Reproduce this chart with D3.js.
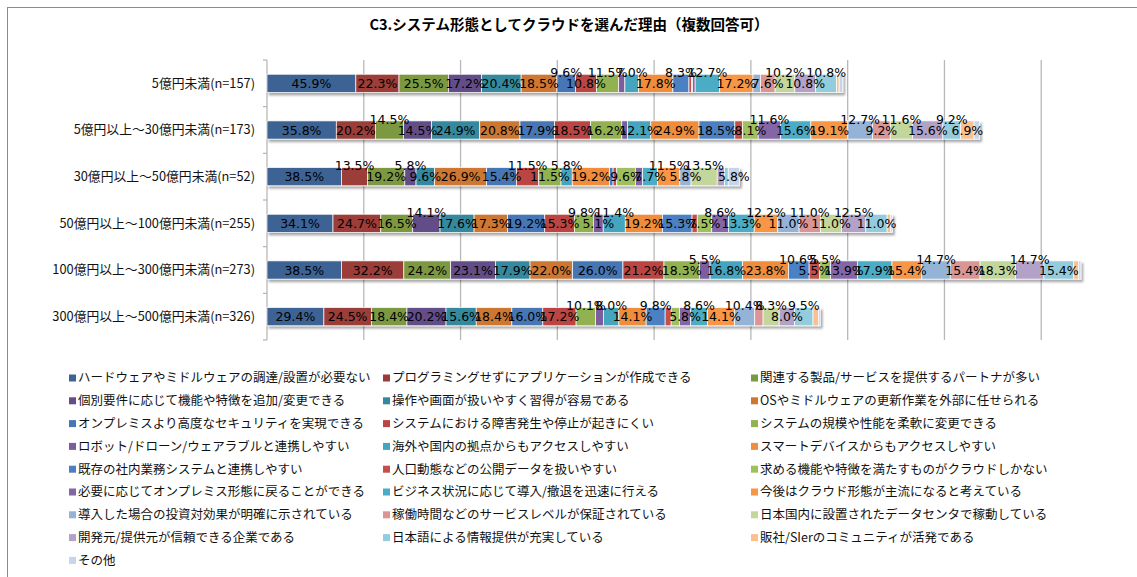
<!DOCTYPE html>
<html>
<head>
<meta charset="utf-8">
<script src="https://cdn.jsdelivr.net/npm/d3@7"></script>
<style>
  body { margin: 0; background: #fff; }
  .jp { font-family: "Noto Sans CJK JP", sans-serif; }
  .num { font-family: "DejaVu Sans", Verdana, sans-serif; }
</style>
</head>
<body>
<div id="chart"></div>
<script>
// Chart size and plot area (plot continues past the right edge, like the cropped original)
const width = 1137;
const height = 577;
const margin = {left: 267, top: 60};
const plotBottom = 340;
const plotRight = 1138;

// Categories (rows)
const categories = [
  "5億円未満(n=157)",
  "5億円以上～30億円未満(n=173)",
  "30億円以上～50億円未満(n=52)",
  "50億円以上～100億円未満(n=255)",
  "100億円以上～300億円未満(n=273)",
  "300億円以上～500億円未満(n=326)"
];

// Series (legend order)
const seriesNames = [
  "ハードウェアやミドルウェアの調達/設置が必要ない",
  "プログラミングせずにアプリケーションが作成できる",
  "関連する製品/サービスを提供するパートナが多い",
  "個別要件に応じて機能や特徴を追加/変更できる",
  "操作や画面が扱いやすく習得が容易である",
  "OSやミドルウェアの更新作業を外部に任せられる",
  "オンプレミスより高度なセキュリティを実現できる",
  "システムにおける障害発生や停止が起きにくい",
  "システムの規模や性能を柔軟に変更できる",
  "ロボット/ドローン/ウェアラブルと連携しやすい",
  "海外や国内の拠点からもアクセスしやすい",
  "スマートデバイスからもアクセスしやすい",
  "既存の社内業務システムと連携しやすい",
  "人口動態などの公開データを扱いやすい",
  "求める機能や特徴を満たすものがクラウドしかない",
  "必要に応じてオンプレミス形態に戻ることができる",
  "ビジネス状況に応じて導入/撤退を迅速に行える",
  "今後はクラウド形態が主流になると考えている",
  "導入した場合の投資対効果が明確に示されている",
  "稼働時間などのサービスレベルが保証されている",
  "日本国内に設置されたデータセンタで稼動している",
  "開発元/提供元が信頼できる企業である",
  "日本語による情報提供が充実している",
  "販社/SIerのコミュニティが活発である",
  "その他"
];

const colors = [
  "#3C6494", "#9B3C39", "#7B9942", "#644E88", "#35899F", "#CD7732",
  "#4676B4", "#BA4542", "#92B251", "#7B5D9E", "#44A5BF", "#F08D3E",
  "#4C80C2", "#C4504D", "#A0C05E", "#8466A6", "#4BACC6", "#F79646",
  "#95B3D7", "#D99694", "#C3D69B", "#B3A2C7", "#93CDDD", "#FAC090",
  "#C6D5EA"
];

// Values (%) per category, in series order
const v157 = [45.9, 22.3, 25.5, 17.2, 20.4, 18.5, 9.6, 10.8, 11.5, 3.2, 7.0, 17.8, 8.3,
              1.3, 0.6, 1.3, 12.7, 17.2, 3.8, 7.6, 10.2, 10.8, 10.8, 1.3, 1.9];
const v173 = [35.8, 20.2, 14.5, 14.5, 24.9, 20.8, 17.9, 18.5, 16.2, 2.9, 12.1, 24.9, 18.5,
              4.0, 8.1, 11.6, 15.6, 19.1, 12.7, 9.2, 11.6, 15.6, 9.2, 6.9, 2.9];
const v52  = [38.5, 13.5, 19.2, 5.8, 9.6, 26.9, 15.4, 11.5, 11.5, 0.0, 5.8, 19.2, 1.9,
              1.9, 9.6, 3.8, 7.7, 11.5, 5.8, 0.0, 13.5, 3.8, 1.9, 0.0, 5.8];
const v255 = [34.1, 24.7, 16.5, 14.1, 17.6, 17.3, 19.2, 15.3, 9.8, 5.1, 11.4, 19.2, 15.3,
              2.7, 7.5, 8.6, 13.3, 12.2, 11.0, 11.0, 11.0, 12.5, 11.0, 1.9, 0.8];
const v273 = [38.5, 32.2, 24.2, 23.1, 17.9, 22.0, 26.0, 21.2, 18.3, 5.5, 16.8, 23.8, 10.6,
              5.5, 5.5, 13.9, 17.9, 15.4, 14.7, 15.4, 18.3, 14.7, 15.4, 2.6, 1.1];
const v326 = [29.4, 24.5, 18.4, 20.2, 15.6, 18.4, 16.0, 17.2, 10.1, 4.0, 8.0, 14.1, 9.8,
              3.1, 4.3, 5.8, 8.6, 14.1, 10.4, 4.3, 8.3, 8.0, 9.5, 2.8, 0.9];
const values = [v157, v173, v52, v255, v273, v326];

// series numbers whose labels sit above the bar (moved by hand in the original)
const liftedLabels = [
  [7, 9, 11, 13, 17, 21, 23],
  [3, 16, 19, 21, 23],
  [2, 4, 8, 11, 18, 21],
  [4, 9, 11, 16, 18, 20, 22],
  [10, 13, 15, 19, 22],
  [9, 11, 13, 17, 19, 21, 23]
];

const svg = d3.select("#chart")
  .append("svg")
  .attr("width", width)
  .attr("height", height);

// shadow under each bar
const defs = svg.append("defs");
defs.append("filter")
  .attr("id", "shadow")
  .attr("x", "-5%").attr("y", "-30%").attr("width", "110%").attr("height", "180%")
  .append("feDropShadow")
  .attr("dx", 2).attr("dy", 2.5).attr("stdDeviation", 1.3)
  .attr("flood-color", "#000").attr("flood-opacity", 0.35);

// outer chart frame
svg.append("rect")
  .attr("x", 7.5).attr("y", 7.5)
  .attr("width", width + 20).attr("height", height + 20)
  .attr("fill", "none").attr("stroke", "#8c8c8c");

// title
svg.append("text")
  .attr("class", "jp")
  .attr("x", 569).attr("y", 30)
  .attr("text-anchor", "middle")
  .attr("font-size", "14.5px").attr("font-weight", "bold")
  .text("C3.システム形態としてクラウドを選んだ理由（複数回答可）");

// scales
const xScale = d3.scaleLinear()
  .domain([0, 450])
  .range([margin.left, plotRight]);

const yScale = d3.scaleBand()
  .domain(categories)
  .range([margin.top, plotBottom])
  .paddingInner(0.61)
  .paddingOuter(0.305);

// vertical gridlines
svg.append("g")
  .selectAll("line")
  .data(d3.range(50, 451, 50))
  .enter()
  .append("line")
    .attr("x1", d => xScale(d)).attr("x2", d => xScale(d))
    .attr("y1", margin.top).attr("y2", plotBottom)
    .attr("stroke", "#b8b8b8").attr("stroke-width", 1.3);

// category axis (no domain labels from d3, ticks at band edges)
const step = yScale.step();
const axisG = svg.append("g");
axisG.append("line")
  .attr("x1", margin.left).attr("x2", margin.left)
  .attr("y1", margin.top).attr("y2", plotBottom)
  .attr("stroke", "#b8b8b8").attr("stroke-width", 1.3);
axisG.selectAll(".tick")
  .data(d3.range(categories.length + 1))
  .enter()
  .append("line")
    .attr("x1", margin.left - 4).attr("x2", margin.left)
    .attr("y1", i => margin.top + i * step).attr("y2", i => margin.top + i * step)
    .attr("stroke", "#b8b8b8").attr("stroke-width", 1.3);

axisG.selectAll(".cat")
  .data(categories)
  .enter()
  .append("text")
    .attr("class", "jp")
    .attr("x", margin.left - 12)
    .attr("y", d => yScale(d) + yScale.bandwidth() / 2)
    .attr("dy", "0.35em")
    .attr("text-anchor", "end")
    .attr("font-size", "12.8px")
    .attr("fill", "#111")
    .text(d => d);

// stack the rows
const rows = categories.map((c, ci) => {
  let acc = 0;
  return values[ci].map((v, si) => {
    const seg = {cat: c, ci: ci, si: si, v: v, x0: acc, x1: acc + v};
    acc += v;
    return seg;
  });
});

const bars = svg.append("g")
  .selectAll(".bar")
  .data(rows)
  .enter()
  .append("g")
    .attr("class", "bar")
    .attr("filter", "url(#shadow)");

bars.selectAll("rect")
  .data(d => d.filter(s => s.v > 0))
  .enter()
  .append("rect")
    .attr("x", d => xScale(d.x0))
    .attr("y", d => yScale(d.cat))
    .attr("width", d => xScale(d.x1) - xScale(d.x0))
    .attr("height", yScale.bandwidth())
    .attr("fill", d => colors[d.si])
    .attr("stroke", "#fff")
    .attr("stroke-width", 0.7);

// value labels
const labelData = rows.flat().filter(s => s.v >= 5);
svg.append("g")
  .selectAll("text")
  .data(labelData)
  .enter()
  .append("text")
    .attr("class", "num")
    .attr("x", d => xScale((d.x0 + d.x1) / 2))
    .attr("y", d => {
      const mid = yScale(d.cat) + yScale.bandwidth() / 2;
      return liftedLabels[d.ci].includes(d.si + 1) ? mid - 11 : mid;
    })
    .attr("dy", "0.36em")
    .attr("text-anchor", "middle")
    .attr("font-size", "12.5px")
    .attr("fill", "#000")
    .text(d => d.v.toFixed(1) + "%");

// legend, three columns
const legendX = [69, 383, 751];
const legendY0 = 378;
const legendStep = 22.8;
const legend = svg.append("g")
  .selectAll(".leg")
  .data(seriesNames)
  .enter()
  .append("g")
    .attr("transform", (d, i) =>
      `translate(${legendX[i % 3]},${legendY0 + Math.floor(i / 3) * legendStep})`);

legend.append("rect")
  .attr("x", 0).attr("y", -3.5)
  .attr("width", 7).attr("height", 7)
  .attr("fill", (d, i) => colors[i]);

legend.append("text")
  .attr("class", "jp")
  .attr("x", 9)
  .attr("dy", "0.35em")
  .attr("font-size", "12.5px")
  .attr("fill", "#111")
  .text(d => d);
</script>
</body>
</html>
